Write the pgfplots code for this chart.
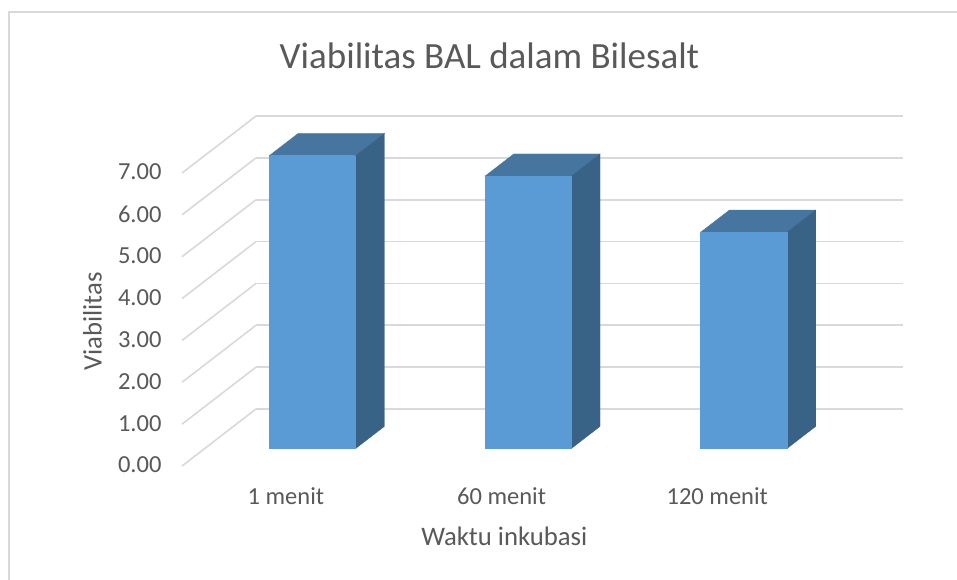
\documentclass[border=0pt]{standalone}
\usepackage{fontspec}
\setmainfont{Carlito}
\usepackage{pgfplots}
\pgfplotsset{compat=1.18}
\definecolor{txt}{HTML}{595959}
\definecolor{gridc}{HTML}{D9D9D9}
\definecolor{fr}{HTML}{5B9BD5}
\definecolor{tp}{HTML}{4675A0}
\definecolor{sd}{HTML}{386387}
\pgfplotsset{
 front/.style={fill=fr,draw=fr,line width=0.3pt},
 top/.style={fill=tp,draw=tp,line width=0.3pt},
 side/.style={fill=sd,draw=sd,line width=0.3pt},
}
\begin{document}
\begin{tikzpicture}[x=1pt,y=1pt]
\path[use as bounding box,fill=white] (0,0) rectangle (957,580);
\draw[gridc,line width=1.8pt] (9,0) -- (9,568) -- (957,568);
\begin{axis}[
  at={(182pt,114pt)},anchor=origin,
  x={(215.67pt,0pt)},y={(74pt,57pt)},z={(0pt,41.85pt)},
  xmin=0,xmax=3,ymin=0,ymax=1,zmin=0,zmax=7,
  clip=false,
  axis line style={draw=none},
  tick style={draw=none},
  xtick={0.5,1.5,2.5},xticklabels={1 menit,60 menit,120 menit},
  ytick=\empty,
  ztick={0,1,2,3,4,5,6,7},
  zticklabel style={xshift=-17pt,yshift=9.5pt,/pgf/number format/fixed,/pgf/number format/fixed zerofill,/pgf/number format/precision=2,/pgf/number format/assume math mode=true},
  xticklabel style={xshift=2pt,yshift=-18pt},
  zmajorgrids=true,
  grid style={gridc,line width=1.6pt},
  ticklabel style={font=\fontsize{24.5}{24.5}\selectfont,text=txt},
  label style={font=\fontsize{26.7}{26.7}\selectfont,text=txt},
  xlabel style={xshift=33pt,yshift=-1pt},
  zlabel style={yshift=13pt,xshift=24pt},
  xlabel={Waktu inkubasi},zlabel={Viabilitas},
  title={Viabilitas BAL dalam Bilesalt},
  title style={font=\fontsize{37}{37}\selectfont,text=txt,xshift=-53pt,yshift=38pt},
]
% bar 1: 7.00
\addplot3[top] coordinates {(0.3,0.305,7.00)(0.7,0.305,7.00)(0.7,0.695,7.00)(0.3,0.695,7.00)} -- cycle;
\addplot3[side] coordinates {(0.7,0.305,0)(0.7,0.695,0)(0.7,0.695,7.00)(0.7,0.305,7.00)} -- cycle;
\addplot3[front] coordinates {(0.3,0.305,0)(0.7,0.305,0)(0.7,0.305,7.00)(0.3,0.305,7.00)} -- cycle;
% bar 2: 6.51
\addplot3[top] coordinates {(1.3,0.305,6.51)(1.7,0.305,6.51)(1.7,0.695,6.51)(1.3,0.695,6.51)} -- cycle;
\addplot3[side] coordinates {(1.7,0.305,0)(1.7,0.695,0)(1.7,0.695,6.51)(1.7,0.305,6.51)} -- cycle;
\addplot3[front] coordinates {(1.3,0.305,0)(1.7,0.305,0)(1.7,0.305,6.51)(1.3,0.305,6.51)} -- cycle;
% bar 3: 5.17
\addplot3[top] coordinates {(2.3,0.305,5.17)(2.7,0.305,5.17)(2.7,0.695,5.17)(2.3,0.695,5.17)} -- cycle;
\addplot3[side] coordinates {(2.7,0.305,0)(2.7,0.695,0)(2.7,0.695,5.17)(2.7,0.305,5.17)} -- cycle;
\addplot3[front] coordinates {(2.3,0.305,0)(2.7,0.305,0)(2.7,0.305,5.17)(2.3,0.305,5.17)} -- cycle;
\end{axis}
\end{tikzpicture}
\end{document}
